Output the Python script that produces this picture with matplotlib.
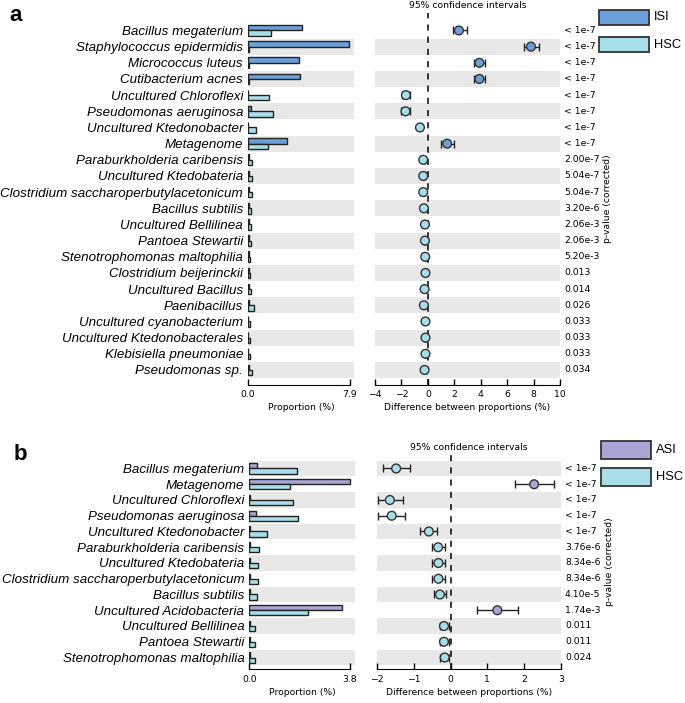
import numpy as np
import matplotlib.pyplot as plt
from matplotlib.patches import Rectangle
import matplotlib.transforms as mtransforms

# panel a : ISI vs HSC
taxa_a = ["Bacillus megaterium", "Staphylococcus epidermidis", "Micrococcus luteus",
          "Cutibacterium acnes", "Uncultured Chloroflexi", "Pseudomonas aeruginosa",
          "Uncultured Ktedonobacter", "Metagenome", "Paraburkholderia caribensis",
          "Uncultured Ktedobateria", "Clostridium saccharoperbutylacetonicum",
          "Bacillus subtilis", "Uncultured Bellilinea", "Pantoea Stewartii",
          "Stenotrophomonas maltophilia", "Clostridium beijerinckii", "Uncultured Bacillus",
          "Paenibacillus", "Uncultured cyanobacterium", "Uncultured Ktedonobacterales",
          "Klebisiella pneumoniae", "Pseudomonas sp."]
isi = [4.2, 7.85, 3.95, 4.0, 0.02, 0.2, 0.03, 3.05, 0.05, 0.05, 0.05,
       0.05, 0.04, 0.04, 0.04, 0.04, 0.05, 0.08, 0.03, 0.03, 0.03, 0.08]
hsc_a = [1.8, 0.05, 0.05, 0.05, 1.65, 1.9, 0.65, 1.55, 0.33, 0.33, 0.33,
         0.27, 0.2, 0.2, 0.18, 0.18, 0.27, 0.46, 0.16, 0.16, 0.16, 0.33]
diff_a = [2.35, 7.8, 3.9, 3.9, -1.66, -1.69, -0.6, 1.46, -0.35, -0.35, -0.35,
          -0.3, -0.22, -0.22, -0.2, -0.18, -0.25, -0.3, -0.18, -0.18, -0.18, -0.25]
lo_a = [1.87, 7.27, 3.5, 3.5, -1.97, -2.0, -0.75, 1.0, -0.45, -0.45, -0.45,
        -0.4, -0.3, -0.3, -0.28, -0.26, -0.35, -0.42, -0.25, -0.25, -0.25, -0.35]
hi_a = [2.93, 8.4, 4.3, 4.3, -1.36, -1.35, -0.45, 2.0, -0.25, -0.25, -0.25,
        -0.2, -0.14, -0.14, -0.12, -0.1, -0.15, -0.18, -0.11, -0.11, -0.11, -0.15]
pval_a = ["< 1e-7"] * 8 + ["2.00e-7", "5.04e-7", "5.04e-7", "3.20e-6", "2.06e-3",
                           "2.06e-3", "5.20e-3", "0.013", "0.014", "0.026", "0.033",
                           "0.033", "0.033", "0.034"]

# panel b : ASI vs HSC
taxa_b = ["Bacillus megaterium", "Metagenome", "Uncultured Chloroflexi",
          "Pseudomonas aeruginosa", "Uncultured Ktedonobacter", "Paraburkholderia caribensis",
          "Uncultured Ktedobateria", "Clostridium saccharoperbutylacetonicum",
          "Bacillus subtilis", "Uncultured Acidobacteria", "Uncultured Bellilinea",
          "Pantoea Stewartii", "Stenotrophomonas maltophilia"]
asi = [0.3, 3.8, 0.02, 0.25, 0.03, 0.01, 0.01, 0.01, 0.01, 3.49, 0.01, 0.01, 0.01]
hsc_b = [1.78, 1.53, 1.66, 1.85, 0.65, 0.35, 0.33, 0.33, 0.3, 2.23, 0.21, 0.21, 0.2]
diff_b = [-1.48, 2.27, -1.65, -1.6, -0.59, -0.34, -0.33, -0.33, -0.29, 1.27, -0.18, -0.18, -0.16]
lo_b = [-1.84, 1.74, -1.98, -1.98, -0.82, -0.5, -0.5, -0.5, -0.45, 0.71, -0.3, -0.3, -0.28]
hi_b = [-1.1, 2.81, -1.3, -1.24, -0.36, -0.16, -0.15, -0.15, -0.12, 1.83, -0.05, -0.05, -0.04]
pval_b = ["< 1e-7"] * 5 + ["3.76e-6", "8.34e-6", "8.34e-6", "4.10e-5", "1.74e-3",
                           "0.011", "0.011", "0.024"]

W, H = 685, 703
fig = plt.figure(figsize=(W / 100, H / 100), dpi=100)
small = dict(family='DejaVu Sans', fontsize=6.7)
BAND = '#e8e8e8'


def pax(left, top, right, bottom):
    return fig.add_axes([left / W, 1 - bottom / H, (right - left) / W, (bottom - top) / H])


def ftext(x, y, s, **kw):
    fig.text(x / W, 1 - y / H, s, **kw)


def panel(letter, taxa, g1, g2, diff, lo, hi, pvals, c1, n1, c2, n2,
          top, bottom, ylim, bar_l, bar_r, bar_max, bar_xmax, dif_l, dif_r, dif_xlim,
          dif_ticks, leg_x, leg_y1, leg_y2, leg_h):
    n = len(taxa)
    y = np.arange(n)[::-1]
    axb = pax(bar_l, top, bar_r, bottom)
    axd = pax(dif_l, top, dif_r, bottom)
    for ax in (axb, axd):
        ax.set_ylim(*ylim)
        # grey band on every other row, starting from the bottom one
        for i in range(n):
            if (n - 1 - i) % 2 == 0:
                ax.axhspan(y[i] - 0.5, y[i] + 0.5, color=BAND, lw=0, zorder=0)
        for s in ('left', 'right', 'top'):
            ax.spines[s].set_visible(False)
        ax.tick_params(axis='x', direction='in', length=4, width=1, labelsize=6.7, pad=4)

    # proportions
    h = 0.33
    axb.barh(y + h / 2, g1, height=h, color=c1, edgecolor='#222222', lw=1, zorder=2)
    axb.barh(y - h / 2, g2, height=h, color=c2, edgecolor='#222222', lw=1, zorder=2)
    axb.set_xlim(0, bar_xmax)
    axb.set_xticks([0, bar_max])
    axb.set_xticklabels(['0.0', f'{bar_max:.1f}'], **small)
    axb.spines['bottom'].set_bounds(0, bar_max)
    axb.set_yticks(y)
    axb.set_yticklabels(taxa, family='Liberation Sans', style='italic', fontsize=9.6)
    axb.tick_params(axis='y', length=0, pad=3.6)
    axb.set_xlabel('Proportion (%)', labelpad=3, **small)

    # differences
    axd.axvline(0, color='k', ls=(0, (4, 4)), lw=1.1, zorder=1)
    diff = np.array(diff)
    cols = [c1 if d > 0 else c2 for d in diff]
    err = np.array([diff - np.array(lo), np.array(hi) - diff])
    axd.errorbar(diff, y, xerr=err, fmt='none', ecolor='#222222', elinewidth=1,
                 capsize=3, capthick=1, zorder=3)
    axd.scatter(diff, y, s=40, c=cols, edgecolors='#333333', linewidths=1, zorder=4)
    axd.set_xlim(*dif_xlim)
    axd.set_xticks(dif_ticks)
    axd.set_xticklabels([f'{t:g}'.replace('-', '\u2212') for t in dif_ticks], **small)
    axd.set_yticks([])
    axd.set_xlabel('Difference between proportions (%)', labelpad=3, **small)

    tr = mtransforms.blended_transform_factory(fig.transFigure, axd.transData)
    for i in range(n):
        fig.text((dif_r + 4) / W, y[i], pvals[i], transform=tr, va='center', ha='left', **small)
    ftext(dif_r + 48, (top + bottom) / 2, 'p-value (corrected)', rotation=90,
          va='center', ha='center', **small)
    ftext((dif_l + dif_r) / 2, top - 7, '95% confidence intervals', ha='center',
          va='center', **small)

    for yy, col, name in ((leg_y1, c1, n1), (leg_y2, c2, n2)):
        fig.patches.append(Rectangle((leg_x / W, 1 - (yy + leg_h) / H), 50 / W, leg_h / H,
                                     transform=fig.transFigure, facecolor=col,
                                     edgecolor='#333333', lw=1.3))
        ftext(leg_x + 55, yy + leg_h / 2, name, family='Liberation Sans',
              fontsize=9.3, va='center', ha='left')

    ftext(letter[1], letter[2], letter[0], family='Liberation Sans', fontsize=16,
          fontweight='bold', ha='left', va='baseline')


panel(('a', 9, 21), taxa_a, isi, hsc_a, diff_a, lo_a, hi_a, pval_a,
      '#6a9fd8', 'ISI', '#a8deea', 'HSC',
      13, 384.5, (-0.9, 22.08), 248, 354, 7.9, 8.21, 375, 560, (-4, 10),
      [-4, -2, 0, 2, 4, 6, 8, 10], 599, 10, 37, 15)

panel(('b', 14, 460), taxa_b, asi, hsc_b, diff_b, lo_b, hi_b, pval_b,
      '#a9a5d6', 'ASI', '#a8deea', 'HSC',
      454, 669, (-0.73, 12.92), 249.5, 355, 3.8, 3.99, 377, 561, (-2, 3),
      [-2, -1, 0, 1, 2, 3], 601, 441, 468, 18)

fig.savefig('out.png', dpi=100)
